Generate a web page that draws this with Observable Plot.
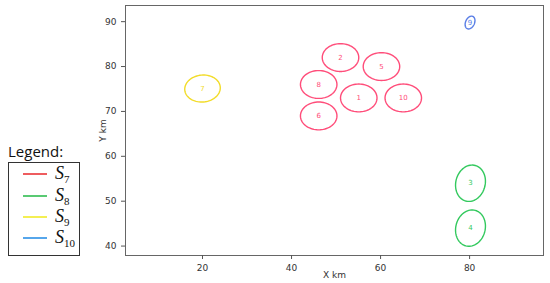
<!DOCTYPE html>
<html><head><meta charset="utf-8">
<script src="https://cdn.jsdelivr.net/npm/d3@7"></script>
<script src="https://cdn.jsdelivr.net/npm/@observablehq/plot@0.6"></script>
<style>body{margin:0;background:#fff}#c{position:relative;width:550px;height:283px}</style>
</head><body><div id="c"></div>
<script>
// ellipse data (km)
const ids    = ["1","2","3","4","5","6","7","8","9","10"];
const series = ["S7","S7","S8","S8","S7","S7","S9","S7","S10","S7"];
const cx     = [55.1, 51.0, 80.2, 80.2, 60.2, 46.1, 20.0, 46.1, 80.1, 65.1];
const cy     = [73.0, 82.0, 54.0, 44.0, 80.0, 69.0, 75.1, 76.0, 89.8, 73.0];
const semiA  = [4.1, 4.1, 4.1, 4.1, 4.1, 4.1, 4.0, 4.1, 1.5, 4.1];
const semiB  = [3.1, 3.1, 3.3, 3.3, 3.1, 3.1, 3.0, 3.1, 1.0, 3.1];
const angle  = [0, 0, 75, 75, 0, 0, 5, 0, 65, 0];
const xTicks = [20, 40, 60, 80];
const yTicks = [40, 50, 60, 70, 80, 90];
const legendSeries = ["S7","S8","S9","S10"];
const legendSubs = ["7","8","9","10"];
const ellipseColors = {S7:"#ff4d7a", S8:"#33c95e", S9:"#f2dc2a", S10:"#5b7fe6"};
const legendColors = ["#e8262a","#22b845","#f0ea1a","#1e88e5"];

const rows = ids.map((id,i)=>({id, series:series[i], cx:cx[i], cy:cy[i], a:semiA[i], b:semiB[i], ang:angle[i]}));
const outline = [];
rows.forEach(r=>{
  const t = r.ang*Math.PI/180;
  for(let k=0;k<=72;k++){
    const u = k/72*2*Math.PI;
    const ex = r.a*Math.cos(u), ey = r.b*Math.sin(u);
    outline.push({id:r.id, series:r.series, x:r.cx+ex*Math.cos(t)-ey*Math.sin(t), y:r.cy+ex*Math.sin(t)+ey*Math.cos(t)});
  }
});

const chart = Plot.plot({
  width:550, height:283,
  marginLeft:125, marginTop:5, marginRight:7, marginBottom:28,
  style:{fontFamily:"DejaVu Sans", fontSize:"9px", color:"#333", background:"#fff"},
  x:{domain:[2.7,96.6]},
  y:{domain:[37.9,93.6]},
  marks:[
    Plot.frame({stroke:"#666"}),
    Plot.axisX({ticks:xTicks, label:"X km", labelArrow:"none", labelAnchor:"center", labelOffset:22, tickSize:4, stroke:"#555"}),
    Plot.axisY({ticks:yTicks, label:"Y km", labelArrow:"none", labelAnchor:"center", labelOffset:26, tickSize:4, stroke:"#555"}),
    Plot.line(outline, {x:"x", y:"y", z:"id", stroke:d=>ellipseColors[d.series], strokeWidth:1.4}),
    Plot.text(rows, {x:"cx", y:"cy", text:"id", fill:d=>ellipseColors[d.series], fontSize:7})
  ]
});
document.getElementById("c").appendChild(chart);

const svg = d3.select(chart);
const g = svg.append("g").attr("text-anchor","start");
g.append("text").attr("x",8).attr("y",157).attr("text-anchor","start").text("Legend:")
  .attr("font-family","Open Sans").attr("font-size",15).attr("fill","#111");
g.append("rect").attr("x",8.5).attr("y",162.5).attr("width",71).attr("height",93)
  .attr("fill","none").attr("stroke","#333").attr("stroke-width",1);
const ly = [174,196,217,238];
legendSeries.forEach((s,i)=>{
  g.append("line").attr("x1",23).attr("x2",47).attr("y1",ly[i]).attr("y2",ly[i])
    .attr("stroke",legendColors[i]).attr("stroke-width",1.5);
  const t = g.append("text").attr("x",55).attr("y",ly[i]+5).attr("text-anchor","start")
    .attr("font-family","Liberation Serif").attr("font-style","italic").attr("font-size",18).attr("fill","#111");
  t.append("tspan").text("S");
  t.append("tspan").attr("font-style","normal").attr("font-size",11).attr("dy",4).text(legendSubs[i]);
});
</script></body></html>
